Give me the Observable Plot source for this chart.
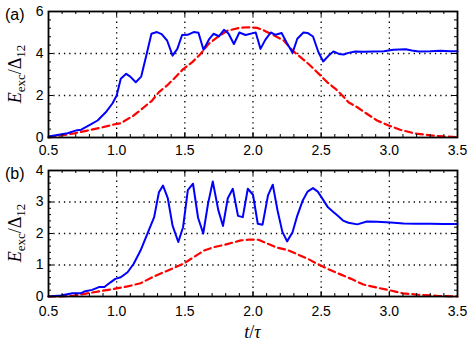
<!DOCTYPE html>
<html><head><meta charset="utf-8">
<script src="https://cdn.jsdelivr.net/npm/d3@7"></script>
<script src="https://cdn.jsdelivr.net/npm/@observablehq/plot@0.6"></script>
<style>
body{margin:0;background:#fff}
#chart{width:471px;position:relative}
#chart svg{display:block}
</style>
</head><body><div id="chart"></div>
<script>
// ---- data (t/tau, E_exc/Delta_12) ----
const panelABlue = [[0.5,0.05],[0.575,0.13],[0.64,0.2],[0.675,0.28],[0.71,0.35],[0.74,0.37],[0.81,0.62],[0.86,0.81],[0.92,1.2],[0.97,1.63],[1.0,2.0],[1.03,2.8],[1.07,3.03],[1.1,2.9],[1.14,2.63],[1.18,2.9],[1.22,3.98],[1.255,4.94],[1.295,5.02],[1.33,4.92],[1.37,4.62],[1.41,3.9],[1.445,4.22],[1.48,4.88],[1.52,4.89],[1.565,5.02],[1.6,4.99],[1.637,4.18],[1.68,4.7],[1.71,4.94],[1.75,4.82],[1.787,5.13],[1.82,4.95],[1.86,4.45],[1.9,5.0],[1.945,4.88],[2.0,4.97],[2.02,5.0],[2.055,4.22],[2.09,4.65],[2.13,5.0],[2.165,4.89],[2.21,4.98],[2.245,4.54],[2.29,4.03],[2.325,4.7],[2.37,5.0],[2.4,4.98],[2.44,4.81],[2.48,4.06],[2.515,3.62],[2.555,3.9],[2.59,4.1],[2.63,3.98],[2.665,3.95],[2.7,4.03],[2.75,4.1],[2.81,4.08],[2.885,4.1],[2.96,4.11],[3.03,4.18],[3.12,4.2],[3.165,4.14],[3.215,4.1],[3.3,4.11],[3.375,4.13],[3.45,4.11],[3.5,4.11]];
const panelARed = [[0.5,0],[0.59,0.1],[0.69,0.2],[0.785,0.33],[0.88,0.46],[0.98,0.62],[1.03,0.68],[1.125,1.05],[1.2,1.44],[1.26,1.76],[1.31,2.16],[1.37,2.48],[1.42,2.8],[1.49,3.27],[1.555,3.59],[1.615,3.98],[1.675,4.46],[1.74,4.78],[1.81,5.08],[1.9,5.22],[1.97,5.25],[2.03,5.22],[2.08,5.1],[2.155,4.86],[2.225,4.62],[2.29,4.14],[2.35,3.82],[2.42,3.43],[2.495,2.95],[2.545,2.63],[2.605,2.32],[2.655,2.0],[2.7,1.68],[2.765,1.44],[2.835,1.13],[2.91,0.81],[2.995,0.57],[3.08,0.37],[3.18,0.2],[3.3,0.1],[3.4,0.05],[3.5,0.02]];
const panelBBlue = [[0.5,0],[0.59,0.03],[0.675,0.1],[0.735,0.1],[0.77,0.17],[0.82,0.21],[0.87,0.3],[0.91,0.3],[0.955,0.45],[0.99,0.56],[1.03,0.61],[1.08,0.77],[1.125,1.04],[1.175,1.46],[1.225,1.99],[1.275,2.52],[1.31,3.31],[1.34,3.52],[1.375,3.12],[1.41,2.25],[1.452,1.73],[1.487,2.2],[1.522,3.38],[1.56,3.58],[1.597,2.5],[1.635,2.0],[1.67,2.94],[1.705,3.65],[1.745,2.75],[1.78,2.24],[1.815,3.12],[1.852,3.42],[1.89,2.56],[1.925,2.52],[1.962,3.42],[2.0,3.23],[2.035,2.31],[2.07,2.28],[2.11,3.21],[2.145,3.55],[2.18,2.73],[2.215,2.06],[2.25,1.75],[2.29,2.04],[2.325,2.57],[2.365,3.05],[2.4,3.33],[2.44,3.44],[2.475,3.33],[2.51,3.1],[2.55,2.83],[2.585,2.7],[2.62,2.57],[2.66,2.41],[2.7,2.34],[2.765,2.29],[2.835,2.38],[2.91,2.37],[3.01,2.35],[3.105,2.32],[3.2,2.31],[3.3,2.31],[3.4,2.3],[3.5,2.3]];
const panelBRed = [[0.5,0],[0.59,0],[0.69,0.03],[0.785,0.1],[0.88,0.17],[0.98,0.24],[1.08,0.32],[1.175,0.42],[1.26,0.61],[1.345,0.77],[1.42,0.91],[1.49,1.04],[1.565,1.25],[1.64,1.46],[1.715,1.57],[1.79,1.64],[1.86,1.72],[1.91,1.78],[1.98,1.81],[2.04,1.8],[2.1,1.69],[2.175,1.55],[2.25,1.48],[2.32,1.35],[2.4,1.2],[2.47,1.04],[2.545,0.88],[2.62,0.74],[2.72,0.56],[2.81,0.38],[2.91,0.28],[3.01,0.19],[3.1,0.1],[3.2,0.06],[3.35,0.02],[3.5,0]];

const xTicks = [0.5, 1.0, 1.5, 2.0, 2.5, 3.0, 3.5];
const xTickLabels = ["0.5", "1.0", "1.5", "2.0", "2.5", "3.0", "3.5"];
const yTicksA = [0, 2, 4, 6];
const yTicksB = [0, 1, 2, 3, 4];
const panelLabels = ["(a)", "(b)"];

const W = 471, ML = 48, MR = 14;

function panel({blue, red, yTicks, yMinorStep, height, marginTop, marginBottom, tickPad, label}) {
  const yMax = yTicks[yTicks.length - 1];
  const ph = height - marginTop - marginBottom;
  const pw = W - ML - MR;
  const xMinor = d3.range(5, 36).map(i => i / 10);
  const yMinor = d3.range(0, Math.round(yMax / yMinorStep) + 1).map(i => i * yMinorStep);
  const xGrid = xTicks.slice(1, -1);
  const yGrid = yTicks.slice(1, -1);
  const tk = {stroke: "#000", strokeWidth: 1};
  const svg = Plot.plot({
    width: W, height, marginLeft: ML, marginRight: MR, marginTop, marginBottom,
    style: {fontFamily: "'Liberation Sans', Arial, sans-serif", fontSize: "14px", color: "#000", background: "#fff", overflow: "visible"},
    x: {domain: [0.5, 3.5]},
    y: {domain: [0, yMax]},
    marks: [
      Plot.gridX(xGrid, {stroke: "#000", strokeOpacity: 1, strokeWidth: 1.3, strokeDasharray: "1.3,4"}),
      Plot.gridY(yGrid, {stroke: "#000", strokeOpacity: 1, strokeWidth: 1.3, strokeDasharray: "1.3,4"}),
      Plot.line(red, {x: d => d[0], y: d => d[1], stroke: "#ff0000", strokeWidth: 2.2, strokeDasharray: "7,4"}),
      Plot.line(blue, {x: d => d[0], y: d => d[1], stroke: "#0000ff", strokeWidth: 2}),
      Plot.tickX(xMinor, {x: d => d, insetTop: ph - 3, ...tk}),
      Plot.tickX(xMinor, {x: d => d, insetBottom: ph - 3, ...tk}),
      Plot.tickX(xTicks, {x: d => d, insetTop: ph - 5, ...tk}),
      Plot.tickX(xTicks, {x: d => d, insetBottom: ph - 5, ...tk}),
      Plot.tickY(yMinor, {y: d => d, insetRight: pw - 3, ...tk}),
      Plot.tickY(yMinor, {y: d => d, insetLeft: pw - 3, ...tk}),
      Plot.tickY(yTicks, {y: d => d, insetRight: pw - 5, ...tk}),
      Plot.tickY(yTicks, {y: d => d, insetLeft: pw - 5, ...tk}),
      Plot.frame({stroke: "#000", strokeWidth: 1.8}),
      Plot.axisX({ticks: xTicks, tickSize: 0, tickPadding: tickPad, tickFormat: d => xTickLabels[xTicks.indexOf(d)], label: null}),
      Plot.axisY({ticks: yTicks, tickSize: 0, tickPadding: 5, tickFormat: d => String(d), label: null})
    ]
  });
  const s = d3.select(svg);
  const cy = marginTop + ph / 2;
  s.append("text")
    .attr("x", 5).attr("y", marginTop + 9)
    .attr("text-anchor", "start")
    .attr("font-family", "'Liberation Sans', Arial, sans-serif").attr("font-size", 16).attr("fill", "#000")
    .text(label);
  const yl = s.append("text")
    .attr("transform", `translate(21,${cy}) rotate(-90)`)
    .attr("text-anchor", "middle")
    .attr("font-family", "'Liberation Serif', 'Times New Roman', serif").attr("font-size", 18).attr("fill", "#000");
  yl.append("tspan").attr("font-style", "italic").text("E");
  yl.append("tspan").attr("font-size", 13).attr("dy", 4).text("exc");
  yl.append("tspan").attr("dy", -4).text("/Δ");
  yl.append("tspan").attr("font-size", 13).attr("dy", 4).text("12");
  return svg;
}

const chart = document.getElementById("chart");
chart.appendChild(panel({blue: panelABlue, red: panelARed, yTicks: yTicksA, yMinorStep: 0.4, height: 160, marginTop: 11, marginBottom: 23, tickPad: 8, label: panelLabels[0]}));
const svgB = panel({blue: panelBBlue, red: panelBRed, yTicks: yTicksB, yMinorStep: 0.2, height: 186, marginTop: 10, marginBottom: 50, tickPad: 10, label: panelLabels[1]});
chart.appendChild(svgB);
const xt = d3.select(svgB).append("text")
  .attr("x", ML + (W - ML - MR) / 2).attr("y", 178)
  .attr("text-anchor", "middle")
  .attr("font-family", "'Liberation Serif', 'Times New Roman', serif").attr("font-size", 18).attr("fill", "#000");
xt.append("tspan").attr("font-style", "italic").text("t");
xt.append("tspan").text("/");
xt.append("tspan").attr("font-style", "italic").text("τ");
</script>
</body></html>
